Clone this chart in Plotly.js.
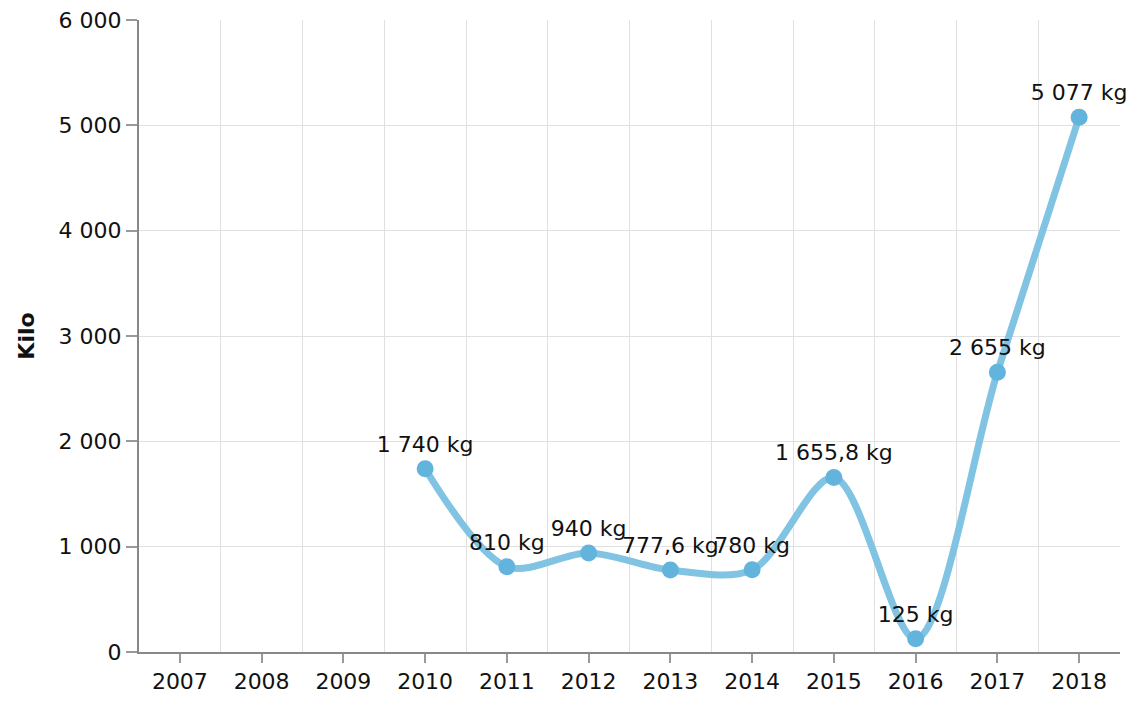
<!DOCTYPE html>
<html>
<head>
<meta charset="utf-8">
<script src="https://cdn.plot.ly/plotly-3.0.1.min.js"></script>
<style>
  html, body { margin: 0; padding: 0; background: #fff; }
  #Graph { width: 1134px; height: 702px; }
</style>
</head>
<body>
<div id="Graph"></div>
<script>
// years on the x axis, and the measured weights (kg)
var years = [2007, 2008, 2009, 2010, 2011, 2012, 2013, 2014, 2015, 2016, 2017, 2018];
var dataYears = [2010, 2011, 2012, 2013, 2014, 2015, 2016, 2017, 2018];
var kilos = [1740, 810, 940, 777.6, 780, 1655.8, 125, 2655, 5077];
var yTicks = [0, 1000, 2000, 3000, 4000, 5000, 6000];

var trace1 = {
  x: dataYears,
  y: kilos,
  type: 'scatter',
  mode: 'lines+markers+text',
  line: { shape: 'spline', smoothing: 0.9, color: '#80c3e2', width: 7 },
  marker: { size: 17, color: '#62b4dc' },
  texttemplate: '%{y:,} kg',
  textposition: 'top center',
  textfont: { family: 'DejaVu Sans, Verdana, sans-serif', size: 22, color: '#111' },
  cliponaxis: false,
  hoverinfo: 'x+y'
};

var layout = {
  width: 1134,
  height: 702,
  margin: { l: 139, r: 14, t: 20, b: 50 },
  separators: ', ',
  paper_bgcolor: '#fff',
  plot_bgcolor: '#fff',
  showlegend: false,
  font: { family: 'DejaVu Sans, Verdana, sans-serif', size: 22, color: '#111' },
  xaxis: {
    range: [years[0] - 0.5, years[years.length - 1] + 0.5],
    tickvals: years,
    ticktext: years.map(String),
    ticks: 'outside',
    ticklen: 9,
    tickwidth: 2,
    tickcolor: '#999',
    showgrid: false,
    zeroline: false,
    showline: true,
    linecolor: '#888',
    linewidth: 2,
    minor: {
      tickvals: years.concat([years[years.length - 1] + 1]).map(function(y) { return y - 0.5; }),
      showgrid: true,
      gridcolor: '#e0e0e0',
      gridwidth: 1,
      ticks: ''
    },
    fixedrange: true
  },
  yaxis: {
    title: { text: '<b>Kilo</b>', font: { size: 22 }, standoff: 18 },
    range: [0, 6000],
    tickvals: yTicks,
    separatethousands: true,
    tickformat: ',d',
    ticks: 'outside',
    ticklen: 11,
    tickwidth: 2,
    tickcolor: '#999',
    showgrid: true,
    gridcolor: '#e0e0e0',
    gridwidth: 1,
    zeroline: false,
    showline: true,
    linecolor: '#888',
    linewidth: 2,
    fixedrange: true
  }
};

Plotly.newPlot('Graph', [trace1], layout, { displayModeBar: false, staticPlot: true });
</script>
</body>
</html>
